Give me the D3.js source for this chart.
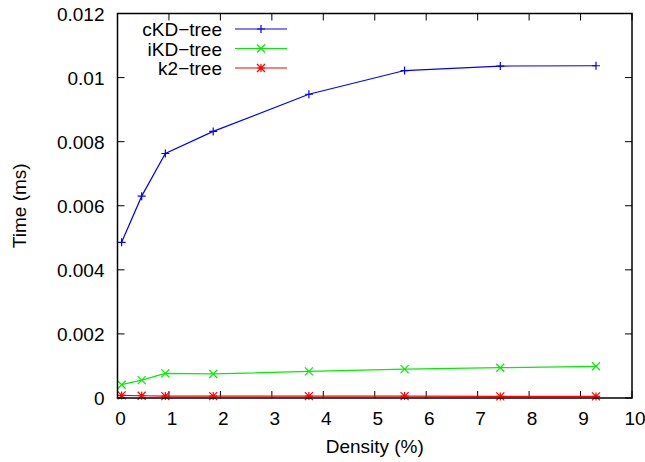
<!DOCTYPE html>
<html>
<head>
<meta charset="utf-8">
<script src="https://cdn.jsdelivr.net/npm/d3@7"></script>
<style>
  body { margin: 0; background: #fff; }
  text { font-family: "Liberation Sans", Arial, sans-serif; font-size: 19px; fill: #000; }
</style>
</head>
<body>
<svg id="chart" width="645" height="462"></svg>
<script>
// ##### Data
var density = [0.08, 0.47, 0.93, 1.86, 3.72, 5.58, 7.44, 9.3];
var ckdTimes = [0.00486, 0.00630, 0.00763, 0.00832, 0.00948, 0.01022, 0.01036, 0.01037];
var ikdTimes = [0.000415, 0.00056, 0.00077, 0.00075, 0.00083, 0.00090, 0.000945, 0.00099];
var k2Times = [0.00008, 0.00007, 0.00006, 0.00006, 0.00006, 0.00006, 0.00005, 0.00005];
var xTicks = [0, 1, 2, 3, 4, 5, 6, 7, 8, 9, 10];
var yTicks = [0, 0.002, 0.004, 0.006, 0.008, 0.01, 0.012];
var yTickLabels = ['0', '0.002', '0.004', '0.006', '0.008', '0.01', '0.012'];

var seriesList = [
  {name: 'cKD-tree', label: 'cKD\u2212tree', values: ckdTimes, colour: '#0000ff', marker: 'plus'},
  {name: 'iKD-tree', label: 'iKD\u2212tree', values: ikdTimes, colour: '#00ee00', marker: 'cross'},
  {name: 'k2-tree', label: 'k2\u2212tree', values: k2Times, colour: '#ff0000', marker: 'star'}
];

// ##### Layout
var svg = d3.select('#chart');
var plotLeft = 117.5, plotRight = 632, plotTop = 13.5, plotBottom = 398;

var x = d3.scaleLinear().domain([0, 10]).range([plotLeft, plotRight]);
var y = d3.scaleLinear().domain([0, 0.012]).range([plotBottom, plotTop]);

// Draw a point marker as a path string
function markerPath(kind, cx, cy) {
  var s = 4;
  var plus = 'M' + (cx - s) + ',' + cy + 'H' + (cx + s) + 'M' + cx + ',' + (cy - s) + 'V' + (cy + s);
  var cross = 'M' + (cx - s) + ',' + (cy - s) + 'L' + (cx + s) + ',' + (cy + s) +
              'M' + (cx - s) + ',' + (cy + s) + 'L' + (cx + s) + ',' + (cy - s);
  if (kind == 'plus') return plus;
  if (kind == 'cross') return cross;
  return plus + cross;
}

// ##### Ticks (inward, mirrored)
var tickLen = 7;
var ticks = svg.append('g').attr('stroke', '#000').attr('stroke-width', 1);
xTicks.forEach(function(t) {
  ticks.append('line').attr('x1', x(t)).attr('x2', x(t)).attr('y1', plotBottom).attr('y2', plotBottom - tickLen);
  ticks.append('line').attr('x1', x(t)).attr('x2', x(t)).attr('y1', plotTop).attr('y2', plotTop + tickLen);
});
yTicks.forEach(function(t) {
  ticks.append('line').attr('y1', y(t)).attr('y2', y(t)).attr('x1', plotLeft).attr('x2', plotLeft + tickLen);
  ticks.append('line').attr('y1', y(t)).attr('y2', y(t)).attr('x1', plotRight).attr('x2', plotRight - tickLen);
});

// Tick labels
svg.append('g').selectAll('text')
  .data(xTicks)
  .enter()
  .append('text')
  .attr('x', function(d) { return x(d) + 3; })
  .attr('y', plotBottom + 27)
  .attr('text-anchor', 'middle')
  .text(function(d) { return d; });

svg.append('g').selectAll('text')
  .data(yTicks)
  .enter()
  .append('text')
  .attr('x', plotLeft - 13)
  .attr('y', function(d) { return y(d) + 7; })
  .attr('text-anchor', 'end')
  .text(function(d, i) { return yTickLabels[i]; });

// Axis titles
svg.append('text')
  .attr('x', (plotLeft + plotRight) / 2)
  .attr('y', 453)
  .attr('text-anchor', 'middle')
  .text('Density (%)');

svg.append('text')
  .attr('transform', 'translate(26,' + ((plotTop + plotBottom) / 2) + ') rotate(-90)')
  .attr('text-anchor', 'middle')
  .text('Time (ms)');

// ##### Series
var line = d3.line()
  .x(function(d, i) { return x(density[i]); })
  .y(function(d) { return y(d); });

seriesList.slice().reverse().forEach(function(s) {
  var g = svg.append('g').attr('class', 'series');
  g.append('path')
    .attr('d', line(s.values))
    .attr('fill', 'none')
    .attr('stroke', s.colour)
    .attr('stroke-width', 1.2);
  g.selectAll('path.marker')
    .data(s.values)
    .enter()
    .append('path')
    .attr('class', 'marker')
    .attr('d', function(d, i) { return markerPath(s.marker, x(density[i]), y(d)); })
    .attr('stroke', s.colour)
    .attr('stroke-width', 1.2)
    .attr('fill', 'none');
});

// ##### Legend
var legend = svg.append('g');
seriesList.forEach(function(s, i) {
  var ly = 29 + i * 19.5;
  legend.append('text')
    .attr('x', 222)
    .attr('y', ly + 7)
    .attr('text-anchor', 'end')
    .text(s.label);
  legend.append('line')
    .attr('x1', 235).attr('x2', 287)
    .attr('y1', ly).attr('y2', ly)
    .attr('stroke', s.colour)
    .attr('stroke-width', 1.2);
  legend.append('path')
    .attr('d', markerPath(s.marker, 261, ly))
    .attr('stroke', s.colour)
    .attr('stroke-width', 1.2)
    .attr('fill', 'none');
});

// ##### Frame
svg.append('rect')
  .attr('x', plotLeft).attr('y', plotTop)
  .attr('width', plotRight - plotLeft).attr('height', plotBottom - plotTop)
  .attr('fill', 'none')
  .attr('stroke', '#000')
  .attr('stroke-width', 1.5);
</script>
</body>
</html>
